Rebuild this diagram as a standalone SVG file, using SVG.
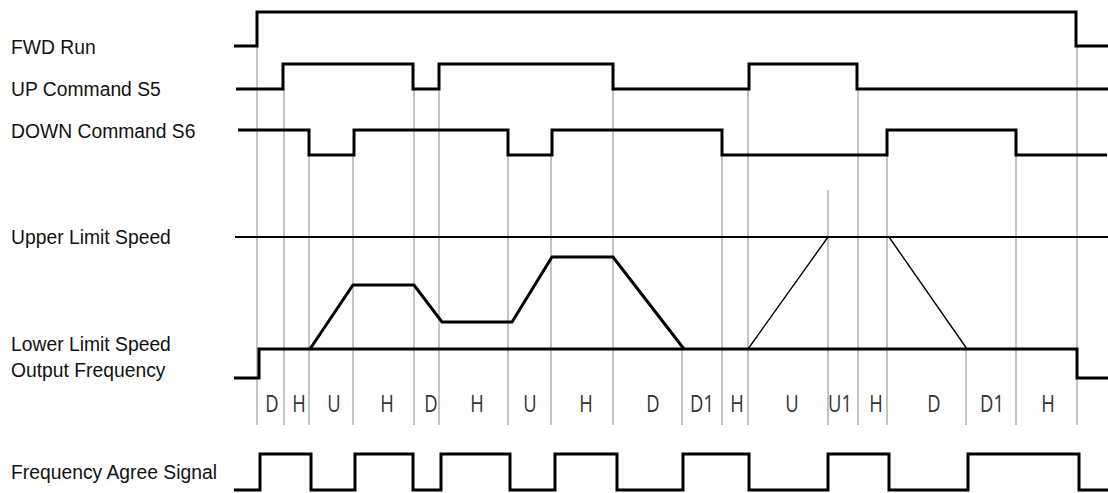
<svg xmlns="http://www.w3.org/2000/svg" width="1108" height="493" viewBox="0 0 1108 493">
<style>
.bg{fill:#fff}
.sig{fill:none;stroke:#000;stroke-width:3;stroke-linejoin:miter;stroke-linecap:butt}
.thin{fill:none;stroke:#000;stroke-width:1.4}
.lim{fill:none;stroke:#000;stroke-width:2}
.grid{stroke:#8a8a8a;stroke-width:1}
.lbl{font-family:"Liberation Sans",Arial,sans-serif;font-size:21px;fill:#111}
.ph{font-family:"Open Sans","Noto Sans",sans-serif;font-size:23px;fill:#333;text-anchor:middle}
</style>
<rect class="bg" x="0" y="0" width="1108" height="493"/>
<g id="grid">
<line class="grid" x1="257" y1="46" x2="257" y2="425" stroke="#bbb"/>
<line class="grid" x1="284" y1="89" x2="284" y2="425"/>
<line class="grid" x1="309" y1="155" x2="309" y2="425"/>
<line class="grid" x1="353" y1="155" x2="353" y2="425"/>
<line class="grid" x1="414" y1="89" x2="414" y2="425"/>
<line class="grid" x1="439" y1="89" x2="439" y2="425"/>
<line class="grid" x1="508" y1="155" x2="508" y2="425"/>
<line class="grid" x1="551" y1="155" x2="551" y2="425"/>
<line class="grid" x1="613" y1="89" x2="613" y2="425"/>
<line class="grid" x1="682" y1="349" x2="682" y2="425"/>
<line class="grid" x1="722" y1="155" x2="722" y2="425"/>
<line class="grid" x1="748" y1="89" x2="748" y2="425"/>
<line class="grid" x1="828" y1="190" x2="828" y2="425"/>
<line class="grid" x1="858" y1="89" x2="858" y2="425"/>
<line class="grid" x1="887" y1="155" x2="887" y2="425"/>
<line class="grid" x1="966" y1="349" x2="966" y2="425"/>
<line class="grid" x1="1016" y1="155" x2="1016" y2="425"/>
<line class="grid" x1="1077" y1="46" x2="1077" y2="425"/>
</g>
<g id="fwd-run">
<path class="sig" d="M234,46 H257 V12 H1076 V46 H1108"/>
<text class="lbl" transform="translate(11,54) scale(0.92,1)">FWD Run</text>
</g>
<g id="up-command">
<path class="sig" d="M236,89 H283 V64 H413 V89 H439 V64 H613 V89 H749 V64 H857 V89 H1108"/>
<text class="lbl" transform="translate(11,96) scale(0.92,1)">UP Command S5</text>
</g>
<g id="down-command">
<path class="sig" d="M238,130 H309 V155 H354 V130 H508 V155 H552 V130 H722 V155 H887 V130 H1016 V155 H1107"/>
<text class="lbl" transform="translate(11,138) scale(0.92,1)">DOWN Command S6</text>
</g>
<g id="upper-limit">
<line class="lim" x1="235" y1="237" x2="1108" y2="237"/>
<text class="lbl" transform="translate(11,244) scale(0.92,1)">Upper Limit Speed</text>
</g>
<g id="output-frequency">
<path class="sig" d="M234,378 H259 V349 H1077 V378 H1108"/>
<path class="sig" d="M310,349 L353,285 H414 L442,322 H512 L552,257 H613 L684,349"/>
<path class="thin" d="M748,349 L828,237"/>
<path class="thin" d="M889,237 L967,349"/>
<text class="lbl" transform="translate(11,351) scale(0.92,1)">Lower Limit Speed</text>
<text class="lbl" transform="translate(11,377) scale(0.92,1)">Output Frequency</text>
</g>
<g id="phases">
<text class="ph" transform="translate(272,412) scale(0.8,1)">D</text>
<text class="ph" transform="translate(299,412) scale(0.8,1)">H</text>
<text class="ph" transform="translate(334,412) scale(0.8,1)">U</text>
<text class="ph" transform="translate(387,412) scale(0.8,1)">H</text>
<text class="ph" transform="translate(431,412) scale(0.8,1)">D</text>
<text class="ph" transform="translate(477,412) scale(0.8,1)">H</text>
<text class="ph" transform="translate(530,412) scale(0.8,1)">U</text>
<text class="ph" transform="translate(586,412) scale(0.8,1)">H</text>
<text class="ph" transform="translate(653,412) scale(0.8,1)">D</text>
<text class="ph" transform="translate(702,412) scale(0.8,1)">D1</text>
<text class="ph" transform="translate(737,412) scale(0.8,1)">H</text>
<text class="ph" transform="translate(792,412) scale(0.8,1)">U</text>
<text class="ph" transform="translate(840,412) scale(0.8,1)">U1</text>
<text class="ph" transform="translate(876,412) scale(0.8,1)">H</text>
<text class="ph" transform="translate(934,412) scale(0.8,1)">D</text>
<text class="ph" transform="translate(992,412) scale(0.8,1)">D1</text>
<text class="ph" transform="translate(1048,412) scale(0.8,1)">H</text>
</g>
<g id="frequency-agree">
<path class="sig" d="M234,490 H260 V454 H311 V490 H355 V454 H413 V490 H441 V454 H510 V490 H555 V454 H617 V490 H683 V454 H749 V490 H828 V454 H889 V490 H968 V454 H1079 V490 H1108"/>
<text class="lbl" transform="translate(11,479) scale(0.92,1)">Frequency Agree Signal</text>
</g>
</svg>
